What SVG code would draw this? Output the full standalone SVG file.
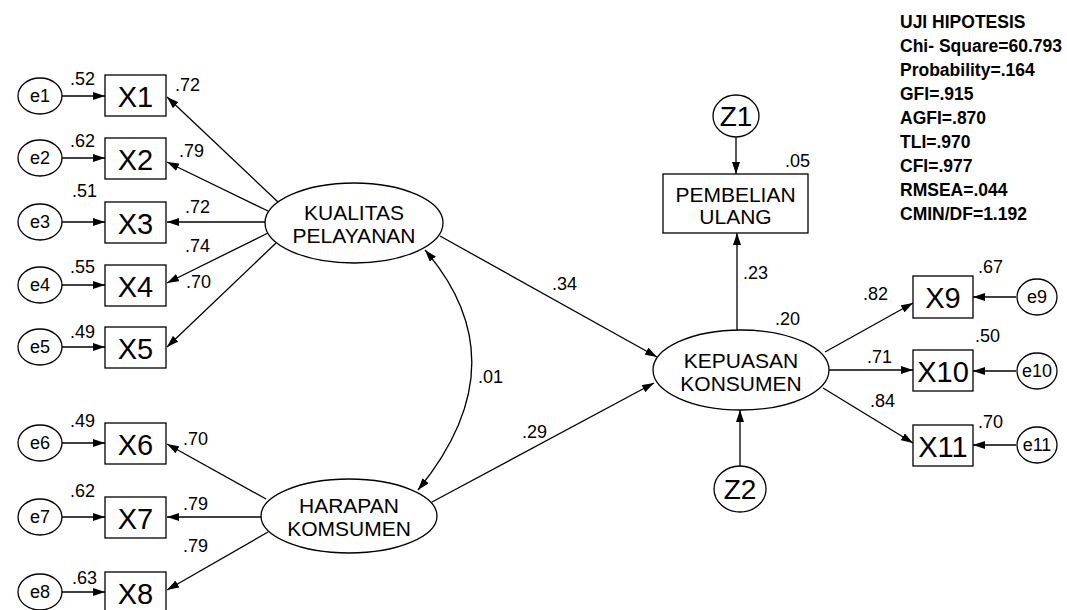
<svg xmlns="http://www.w3.org/2000/svg" width="1067" height="610" viewBox="0 0 1067 610">
<defs>
<marker id="ah" viewBox="0 0 12 8" refX="12" refY="4" markerWidth="12" markerHeight="8" orient="auto-start-reverse" markerUnits="userSpaceOnUse"><path d="M0,0 L12,4 L0,8 z" fill="#000"/></marker>
<style>
.n{fill:#fff;stroke:#000;stroke-width:1.3}
.c line,.c path{stroke:#000;stroke-width:1.3;fill:none;marker-end:url(#ah)}
text{font-family:"Liberation Sans",Arial,sans-serif;fill:#000}
.xl{font-size:29px;text-anchor:middle}
.el{font-size:18px;text-anchor:middle}
.lv{font-size:21px;text-anchor:middle}
.zl{font-size:28px;text-anchor:middle}
.v{font-size:18px}
.st{font-size:17.5px;font-weight:bold}
</style>
</defs>
<rect width="1067" height="610" fill="#fff"/>

<g class="c" id="connectors">
<line x1="62" y1="96" x2="105" y2="96"/>
<line x1="62" y1="158" x2="105" y2="158"/>
<line x1="62" y1="222" x2="105" y2="222"/>
<line x1="62" y1="285" x2="105" y2="285"/>
<line x1="62" y1="347" x2="105" y2="347"/>
<line x1="62" y1="443" x2="105" y2="443"/>
<line x1="62" y1="517" x2="105" y2="517"/>
<line x1="62" y1="592" x2="105" y2="592"/>
<line x1="278" y1="202" x2="167" y2="97"/>
<line x1="268" y1="211" x2="167" y2="162"/>
<line x1="265" y1="222" x2="167" y2="222"/>
<line x1="268" y1="233" x2="167" y2="283"/>
<line x1="276" y1="243" x2="167" y2="347"/>
<line x1="266" y1="499" x2="167" y2="444"/>
<line x1="261" y1="517" x2="167" y2="517"/>
<line x1="268" y1="532" x2="167" y2="590"/>
<path d="M425,250 Q522,363 418,490" style="marker-start:url(#ah)"/>
<line x1="440" y1="236" x2="657" y2="357"/>
<line x1="432" y1="502" x2="654" y2="383"/>
<line x1="736" y1="137" x2="736" y2="174"/>
<line x1="737" y1="330" x2="737" y2="233"/>
<line x1="740" y1="466" x2="740" y2="410"/>
<line x1="825" y1="352" x2="913" y2="303"/>
<line x1="829" y1="370" x2="913" y2="370"/>
<line x1="823" y1="388" x2="913" y2="443"/>
<line x1="1016" y1="297" x2="973" y2="297"/>
<line x1="1016" y1="371" x2="973" y2="371"/>
<line x1="1016" y1="445" x2="973" y2="445"/>
</g>

<g id="e1"><ellipse class="n" cx="40" cy="96" rx="22" ry="18"/><text class="el" x="40" y="102">e1</text></g>
<g id="e2"><ellipse class="n" cx="40" cy="158" rx="22" ry="18"/><text class="el" x="40" y="164">e2</text></g>
<g id="e3"><ellipse class="n" cx="40" cy="222" rx="22" ry="18"/><text class="el" x="40" y="228">e3</text></g>
<g id="e4"><ellipse class="n" cx="40" cy="285" rx="22" ry="18"/><text class="el" x="40" y="291">e4</text></g>
<g id="e5"><ellipse class="n" cx="40" cy="347" rx="22" ry="18"/><text class="el" x="40" y="353">e5</text></g>
<g id="e6"><ellipse class="n" cx="40" cy="443" rx="22" ry="18"/><text class="el" x="40" y="449">e6</text></g>
<g id="e7"><ellipse class="n" cx="40" cy="517" rx="22" ry="18"/><text class="el" x="40" y="523">e7</text></g>
<g id="e8"><ellipse class="n" cx="40" cy="592" rx="22" ry="18"/><text class="el" x="40" y="598">e8</text></g>

<g id="X1"><rect class="n" x="105" y="75" width="61" height="41"/><text class="xl" x="135.5" y="107">X1</text></g>
<g id="X2"><rect class="n" x="105" y="138" width="61" height="41"/><text class="xl" x="135.5" y="170">X2</text></g>
<g id="X3"><rect class="n" x="105" y="202" width="61" height="41"/><text class="xl" x="135.5" y="234">X3</text></g>
<g id="X4"><rect class="n" x="105" y="265" width="61" height="41"/><text class="xl" x="135.5" y="297">X4</text></g>
<g id="X5"><rect class="n" x="105" y="327" width="61" height="41"/><text class="xl" x="135.5" y="359">X5</text></g>
<g id="X6"><rect class="n" x="105" y="423" width="61" height="41"/><text class="xl" x="135.5" y="455">X6</text></g>
<g id="X7"><rect class="n" x="105" y="497" width="61" height="41"/><text class="xl" x="135.5" y="529">X7</text></g>
<g id="X8"><rect class="n" x="105" y="572" width="61" height="41"/><text class="xl" x="135.5" y="604">X8</text></g>

<g id="KUALITAS"><ellipse class="n" cx="354" cy="223" rx="89" ry="40"/><text class="lv" x="354" y="220">KUALITAS</text><text class="lv" x="354" y="243">PELAYANAN</text></g>
<g id="HARAPAN"><ellipse class="n" cx="349" cy="516" rx="88" ry="37"/><text class="lv" x="349" y="513">HARAPAN</text><text class="lv" x="349" y="536">KOMSUMEN</text></g>
<g id="KEPUASAN"><ellipse class="n" cx="741" cy="370" rx="88" ry="40"/><text class="lv" x="741" y="368">KEPUASAN</text><text class="lv" x="741" y="391">KONSUMEN</text></g>
<g id="PEMBELIAN"><rect class="n" x="663" y="174" width="145" height="59"/><text class="lv" x="735.5" y="202">PEMBELIAN</text><text class="lv" x="735.5" y="224">ULANG</text></g>
<g id="Z1"><ellipse class="n" cx="736" cy="116" rx="23" ry="21"/><text class="zl" x="736" y="126">Z1</text></g>
<g id="Z2"><ellipse class="n" cx="740" cy="489" rx="26" ry="23"/><text class="zl" x="740" y="499">Z2</text></g>

<g id="X9"><rect class="n" x="913" y="276" width="60" height="42"/><text class="xl" x="943" y="308">X9</text></g>
<g id="X10"><rect class="n" x="913" y="350" width="60" height="41"/><text class="xl" x="943" y="382">X10</text></g>
<g id="X11"><rect class="n" x="913" y="425" width="60" height="41"/><text class="xl" x="943" y="457">X11</text></g>
<g id="e9"><ellipse class="n" cx="1037" cy="297" rx="20" ry="18"/><text class="el" x="1037" y="303">e9</text></g>
<g id="e10"><ellipse class="n" cx="1037" cy="371" rx="20" ry="18"/><text class="el" x="1037" y="377">e10</text></g>
<g id="e11"><ellipse class="n" cx="1037" cy="445" rx="20" ry="18"/><text class="el" x="1037" y="451">e11</text></g>

<g id="labels">
<text class="v" x="70" y="85">.52</text>
<text class="v" x="70" y="147">.62</text>
<text class="v" x="72" y="197">.51</text>
<text class="v" x="70" y="273">.55</text>
<text class="v" x="70" y="338">.49</text>
<text class="v" x="70" y="427">.49</text>
<text class="v" x="70" y="497">.62</text>
<text class="v" x="72" y="584">.63</text>
<text class="v" x="175" y="91">.72</text>
<text class="v" x="179" y="157">.79</text>
<text class="v" x="185" y="213">.72</text>
<text class="v" x="185" y="252">.74</text>
<text class="v" x="186" y="288">.70</text>
<text class="v" x="183" y="445">.70</text>
<text class="v" x="183" y="510">.79</text>
<text class="v" x="183" y="552">.79</text>
<text class="v" x="478" y="383">.01</text>
<text class="v" x="552" y="290">.34</text>
<text class="v" x="522" y="438">.29</text>
<text class="v" x="785" y="167">.05</text>
<text class="v" x="743" y="279">.23</text>
<text class="v" x="775" y="325">.20</text>
<text class="v" x="863" y="300">.82</text>
<text class="v" x="867" y="363">.71</text>
<text class="v" x="870" y="407">.84</text>
<text class="v" x="978" y="273">.67</text>
<text class="v" x="975" y="342">.50</text>
<text class="v" x="978" y="428">.70</text>
</g>

<g id="stats">
<text class="st" x="900" y="28">UJI HIPOTESIS</text>
<text class="st" x="900" y="52">Chi- Square=60.793</text>
<text class="st" x="900" y="76">Probability=.164</text>
<text class="st" x="900" y="100">GFI=.915</text>
<text class="st" x="900" y="124">AGFI=.870</text>
<text class="st" x="900" y="148">TLI=.970</text>
<text class="st" x="900" y="172">CFI=.977</text>
<text class="st" x="900" y="196">RMSEA=.044</text>
<text class="st" x="900" y="220">CMIN/DF=1.192</text>
</g>
</svg>
